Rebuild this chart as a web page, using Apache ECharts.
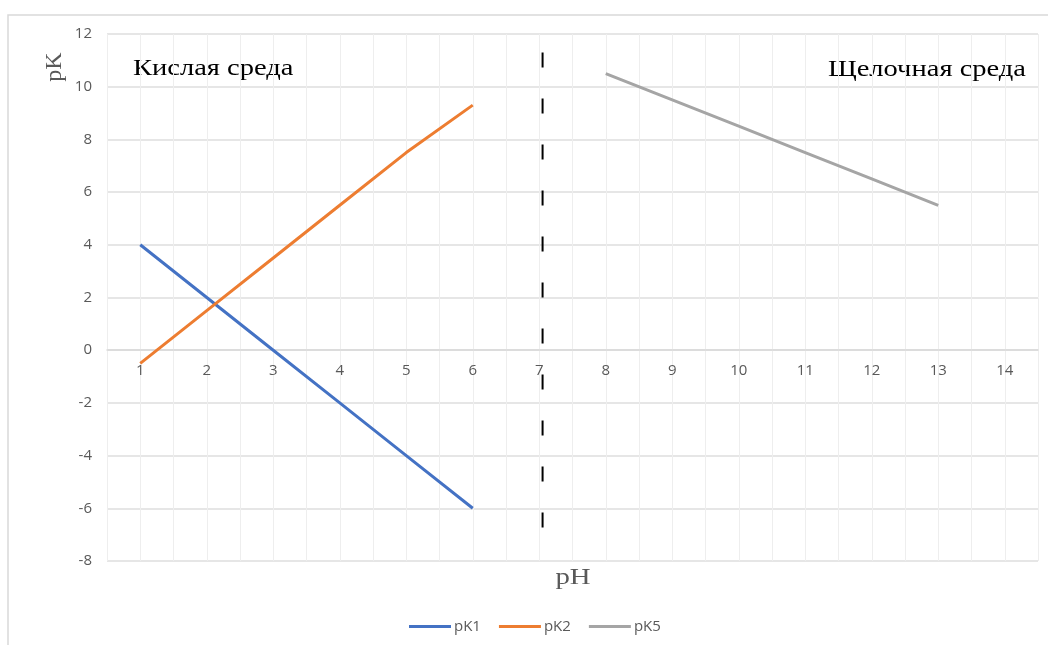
<!DOCTYPE html>
<html>
<head>
<meta charset="utf-8">
<script src="https://cdn.jsdelivr.net/npm/echarts@6/dist/echarts.min.js"></script>
<style>
  html, body { margin: 0; padding: 0; background: #fff; }
  #chart { width: 1048px; height: 645px; }
</style>
</head>
<body>
<div id="chart"></div>
<script>
// pH values on the horizontal axis
const phValues = [1, 2, 3, 4, 5, 6, 7, 8, 9, 10, 11, 12, 13, 14];
// pK curves: [pH, pK]
const pK1 = [[1, 4], [2, 2], [3, 0], [4, -2], [5, -4], [6, -6]];
const pK2 = [[1, -0.5], [2, 1.5], [3, 3.5], [4, 5.5], [5, 7.5], [6, 9.3]];
const pK5 = [[8, 10.5], [9, 9.5], [10, 8.5], [11, 7.5], [12, 6.5], [13, 5.5]];
// neutral point divider (pH 7)
const neutralLine = [[7.05, 11.3], [7.05, -7.1]];
const seriesNames = ['pK1', 'pK2', 'pK5'];
const seriesColors = ['#4472C4', '#ED7D31', '#A5A5A5'];

const chart = echarts.init(document.getElementById('chart'));
const labelFont = 'Open Sans';
const serifFont = 'Liberation Serif';

chart.setOption({
  animation: false,
  backgroundColor: '#fff',
  grid: { left: 107, right: 10, top: 34, bottom: 84 },
  legend: {
    data: seriesNames,
    bottom: 6,
    left: 404,
    icon: 'rect',
    itemWidth: 42,
    itemHeight: 3,
    itemGap: 18,
    textStyle: { color: '#595959', fontSize: 15, fontFamily: labelFont, padding: [0, 0, 0, -2] }
  },
  xAxis: {
    type: 'value',
    position: 'bottom',
    offset: -211,
    min: 0.5,
    max: phValues[phValues.length - 1] + 0.5,
    interval: 0.5,
    axisLine: { onZero: false, lineStyle: { color: '#d9d9d9', width: 1.5 } },
    axisTick: { show: false },
    axisLabel: {
      color: '#595959',
      fontSize: 15,
      fontFamily: labelFont,
      margin: 13,
      formatter: v => (phValues.includes(v) ? String(v) : '')
    },
    splitLine: { show: true, lineStyle: { color: '#eeeeee', width: 1 } }
  },
  yAxis: {
    type: 'value',
    min: -8,
    max: 12,
    interval: 2,
    axisLine: { show: false },
    axisTick: { show: false },
    axisLabel: { color: '#595959', fontSize: 15, fontFamily: labelFont, margin: 15 },
    splitLine: { show: true, lineStyle: { color: '#dedede', width: 1.5 } }
  },
  series: [
    { name: seriesNames[0], type: 'line', data: pK1, showSymbol: false,
      lineStyle: { color: seriesColors[0], width: 3 }, itemStyle: { color: seriesColors[0] } },
    { name: seriesNames[1], type: 'line', data: pK2, showSymbol: false,
      lineStyle: { color: seriesColors[1], width: 3 }, itemStyle: { color: seriesColors[1] } },
    { name: seriesNames[2], type: 'line', data: pK5, showSymbol: false,
      lineStyle: { color: seriesColors[2], width: 3 }, itemStyle: { color: seriesColors[2] } },
    { name: 'neutral', type: 'line', data: neutralLine, showSymbol: false,
      lineStyle: { color: '#000', width: 2, type: [15, 31] }, silent: true }
  ],
  graphic: [
    { type: 'rect', shape: { x: 8, y: 15, width: 1060, height: 660 },
      style: { fill: 'none', stroke: '#d9d9d9', lineWidth: 1.5 }, silent: true, z: -1 },
    { type: 'text', x: 133, y: 69, scaleX: 1.24,
      style: { text: 'Кислая среда', fontFamily: serifFont, fontSize: 23, fill: '#000', align: 'left', verticalAlign: 'middle' } },
    { type: 'text', x: 1026, y: 70, scaleX: 1.24,
      style: { text: 'Щелочная среда', fontFamily: serifFont, fontSize: 23, fill: '#000', align: 'right', verticalAlign: 'middle' } },
    { type: 'text', x: 55, y: 67, rotation: Math.PI / 2,
      style: { text: 'pK', fontFamily: serifFont, fontSize: 24, fill: '#595959', align: 'center', verticalAlign: 'middle' } },
    { type: 'text', x: 573, y: 578, scaleX: 1.2,
      style: { text: 'pH', fontFamily: serifFont, fontSize: 24, fill: '#595959', align: 'center', verticalAlign: 'middle' } }
  ]
});
</script>
</body>
</html>
